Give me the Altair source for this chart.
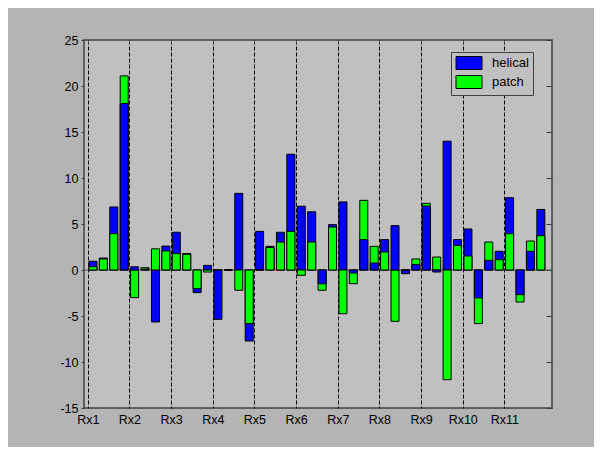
import altair as alt
import pandas as pd

groups = ["Rx1", "Rx2", "Rx3", "Rx4", "Rx5", "Rx6", "Rx7", "Rx8", "Rx9", "Rx10", "Rx11"]
series_names = ["helical", "patch"]
series_colors = ["#0000ff", "#00ff00"]

helical = [0.95, 1.3, 6.85, 18.1,
           0.35, 0.1, -5.65, 2.6,
           4.1, 1.8, -2.46, 0.5,
           -5.36, 0.0, 8.33, -7.72,
           4.2, 2.57, 4.1, 12.58,
           6.93, 6.33, -1.5, 4.93,
           7.4, -0.33, 3.3, 0.76,
           3.3, 4.82, -0.4, 0.58,
           6.96, -0.22, 14.0, 3.3,
           4.46, -3.04, 1.05, 2.03,
           7.86, -2.68, 2.03, 6.58]
patch = [0.35, 1.2, 3.95, 21.1,
         -3.0, 0.25, 2.3, 2.07,
         1.78, 1.7, -2.03, -0.22,
         0.0, 0.0, -2.2, -5.83,
         0.0, 2.45, 3.04, 4.2,
         -0.58, 3.04, -2.2, 4.67,
         -4.75, -1.49, 7.57, 2.57,
         1.96, -5.58, 0.0, 1.2,
         7.25, 1.41, -11.92, 2.68,
         1.52, -5.83, 3.04, 1.12,
         3.95, -3.48, 3.15, 3.73]

y_ticks = [-15, -10, -5, 0, 5, 10, 15, 20, 25]
bars_per_group = 4

rows = []
for i, (h, p) in enumerate(zip(helical, patch)):
    h_back = abs(h) >= abs(p)
    rows.append({"pos": i + 0.5, "series": "helical", "value": h,
                 "layer": "back" if h_back else "front"})
    rows.append({"pos": i + 0.5, "series": "patch", "value": p,
                 "layer": "front" if h_back else "back"})
df = pd.DataFrame(rows)
base_df = pd.DataFrame({"base": [0]})

x_tick_vals = [k * bars_per_group for k in range(len(groups))]
label_arr = "[" + ",".join("'" + g + "'" for g in groups) + "]"

xscale = alt.Scale(domain=[-0.36, 44.57], nice=False, zero=False, padding=0)
yscale = alt.Scale(domain=[-15, 25], nice=False, padding=0)

font = "Liberation Sans"
color = alt.Color(
    "series:N",
    scale=alt.Scale(domain=series_names, range=series_colors),
    legend=alt.Legend(title=None, orient="none", legendX=367, legendY=12),
)

baseline = alt.Chart(base_df).mark_rule(color="#505050", strokeWidth=1).encode(
    y=alt.Y("base:Q", scale=yscale, axis=None)
)

back = alt.Chart(df).transform_filter("datum.layer == 'back'").mark_bar(
    size=8, stroke="black", strokeWidth=1
).encode(
    x=alt.X("pos:Q", scale=xscale, axis=alt.Axis(
        orient="bottom", values=x_tick_vals,
        labelExpr=label_arr + "[round(datum.value/4)]",
        grid=True, gridDash=[4, 2], gridColor="black", gridOpacity=1, gridWidth=1,
        domain=False, ticks=False, labelPadding=5, labelFontSize=12.5,
        labelFont=font, labelColor="black", title=None, labelFlush=False)),
    y=alt.Y("value:Q", scale=yscale, axis=alt.Axis(
        orient="left", values=y_ticks, labelExpr="'' + datum.value",
        grid=False, domain=False, tickSize=3, tickColor="#404040",
        labelPadding=3, labelFontSize=12.5, labelFont=font, labelColor="black",
        title=None)),
    color=color,
)

front = alt.Chart(df).transform_filter("datum.layer == 'front'").mark_bar(
    size=8, stroke="black", strokeWidth=1
).encode(
    x=alt.X("pos:Q", scale=xscale, axis=alt.Axis(
        orient="top", values=x_tick_vals, labels=False, grid=False,
        domain=False, tickSize=4, offset=-4, tickColor="#404040", title=None)),
    y=alt.Y("value:Q", scale=yscale, axis=alt.Axis(
        orient="right", values=y_ticks, labels=False, grid=False,
        domain=False, tickSize=6, offset=-6, tickColor="#404040", title=None)),
    color=color,
)

chart = alt.layer(baseline, back, front).resolve_axis(
    x="independent", y="independent"
).properties(
    width=468, height=368,
    autosize=alt.AutoSizeParams(type="none"),
    padding={"left": 76, "top": 32, "right": 42, "bottom": 39},
    background="#b4b4b4",
).configure_view(
    fill="#c0c0c0", stroke="#404040", strokeWidth=1.5
).configure_legend(
    symbolType="M-2,-1H2V1H-2Z", symbolSize=169, symbolOffset=7,
    symbolStrokeColor="black", symbolStrokeWidth=1, symbolOpacity=1,
    labelFontSize=13, labelFont=font, labelColor="black",
    fillColor="#c0c0c0", strokeColor="#404040", padding=4,
    rowPadding=1, labelOffset=16,
)

chart.save("out.html", embed_options={"renderer": "svg", "actions": False})
